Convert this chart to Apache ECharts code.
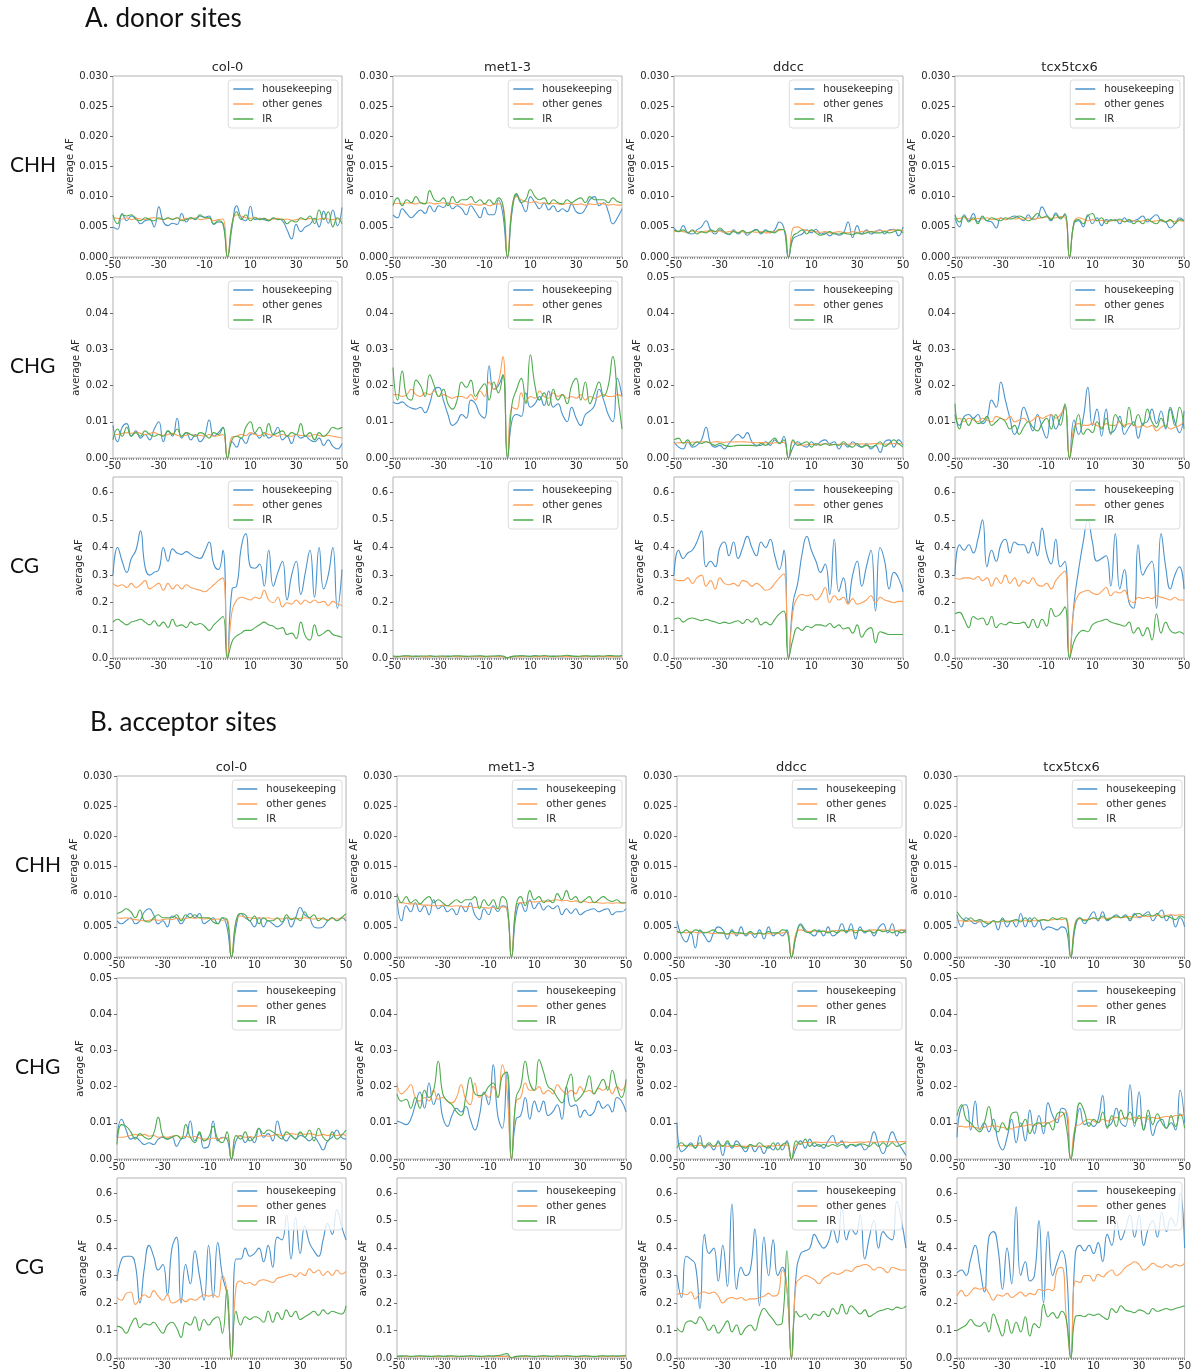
<!DOCTYPE html>
<html>
<head>
<meta charset="utf-8">
<script src="https://cdn.jsdelivr.net/npm/echarts@6/dist/echarts.min.js"></script>
<style>
  html, body { margin: 0; padding: 0; background: #ffffff; }
  #chart { width: 1194px; height: 1371px; }
</style>
</head>
<body>
<div id="chart"></div>
<script>
// Position relative to the splice site (nt)
const positions = [-50,-48,-46,-44,-42,-40,-38,-36,-34,-32,-30,-28,-26,-24,-22,-20,-18,-16,-14,-12,-10,-8,-6,-4,-2,
  0,2,4,6,8,10,12,14,16,18,20,22,24,26,28,30,32,34,36,38,40,42,44,46,48,50];

// Average allele frequency, stored in per-mille (x 0.001)
// ---- A. donor sites ----
const donor_CHH_col0_hk    = [5,4.6,7.2,6,6.8,6.5,5.5,6,6.2,5,8.3,5.8,5.2,5.6,5.4,7.2,5.8,6.5,6.2,6.8,6.6,6.8,5.4,5.8,5.6,0,5,8.5,6.5,6,8.4,6.2,6.4,6.2,6,6.4,6.3,6,4.5,3,5.4,4.2,5,5.4,6.4,5,7.6,5.6,7.8,5.2,8.2];
const donor_CHH_col0_other = [6.5,6.4,6.3,6.5,6.2,6.4,6.3,6.2,6.4,6.5,6.3,6.2,6.4,6.3,6.5,6.2,6.4,6.3,6.5,6.2,6.3,6.4,6,6.2,6.3,0,5.5,7,6.8,6.5,6.4,6.6,6.3,6.4,6.2,6.3,6.4,6.2,6.3,6.1,6.2,6.3,6.2,6.4,6.2,6.3,6.4,6.3,6.2,6.3,6.3];
const donor_CHH_col0_ir    = [7,5.5,7,6.8,7,6.2,6,6.5,6.2,6,6.5,6.2,6.5,6.2,6.5,6,6.2,6.5,6.3,7,6.5,6.5,5.5,6,5.5,0,5.5,7.5,6.2,7,6,6.5,6.2,6.4,6,6.5,6.2,6.3,5.5,6,5.8,6.5,6.2,6.8,5.5,7.8,6.2,7.5,5,6.5,5.5];
const donor_CHH_met_hk     = [7,6.5,8,7.2,6.5,7.2,7.8,7.2,8.5,7.5,8.5,8.2,9,8,8.5,8,7,8.5,7.5,6.5,8.2,7,7,9.5,7,0,7.5,10.3,9,7.5,10,9,8,9,7.8,8.5,7.5,8,7.5,8.8,7.5,7.2,8,9.5,10,8.5,9,7.5,5.5,6.5,8];
const donor_CHH_met_other  = [8.8,8.9,8.8,9,8.9,8.8,9,8.9,9,8.8,8.9,9,8.8,8.9,8.7,8.8,8.6,8.8,8.7,8.6,8.8,8.5,8.7,8.8,8.6,0,8.5,10,9.5,9.2,9,9.2,8.9,9,8.8,8.9,8.8,8.7,8.9,8.8,8.7,8.8,8.6,8.8,8.7,8.9,8.8,8.6,8.7,8.6,8.6];
const donor_CHH_met_ir     = [8.5,9.8,8.5,9.5,9,10,9,8.8,11,9.5,9.2,9.8,8.5,10,9,9.5,9.5,10,9,9.5,8.8,9.5,8.8,9.8,8.5,0,8,10.5,9,9.5,11.2,10,9.5,9.8,8.8,9.5,9,8.8,9.5,9,9.5,9.8,9,10,9.5,9.5,9.5,9,9.8,9.2,9];
const donor_CHH_ddcc_hk    = [4.8,4.2,5.2,4,3.8,4.5,5,6,4.5,3.8,4.5,4,3.7,4.5,3.8,4.3,3.6,4.2,4.6,3.8,4.5,4,4.5,5.8,4.8,0,3,3.5,3.8,4.5,4,4.6,3.8,4,3.5,4,3.6,4,5.8,3.2,5.2,3.8,4.5,3.8,4.2,4.5,3.8,4.5,4.6,3.5,5];
const donor_CHH_ddcc_other = [4.2,4.3,4.2,4.1,4.3,4.2,4.1,4.3,4.2,4.2,4.3,4.1,4.2,4.3,4.1,4.2,4,4.2,4.1,4.2,4,4.1,4.2,4.4,4.6,0,4.8,5,4.6,4.4,4.3,4.2,4.1,4.2,4,4.1,4.2,4.1,4,4.2,4.1,4.2,4.3,4.2,4.3,4.4,4.3,4.4,4.5,4.4,4.5];
const donor_CHH_ddcc_ir    = [4.5,4.2,4.5,4,4.5,3.8,4.2,4,4.5,4.2,4.8,4.2,3.8,4.2,4,4.4,4,4.2,4.5,4,4.3,4.2,4,4.6,4.5,0,3.5,4,4.5,3.8,4.5,4,3.6,3.8,4.2,3.8,3.8,4,3.8,3.7,4,3.8,4,4.2,4,4,4.2,4,4.2,4.5,4];
const donor_CHH_tcx_hk     = [6.5,5,7,6,7.2,5.8,6.5,6,5.8,4.8,6.5,6.2,6.5,6.8,6.5,6,7,6.2,6.5,8.3,7,6,7.3,6.5,7,0,5.5,6,5,7,5.5,6.5,5.2,6.2,6,6.2,5.5,6.5,5.8,6,6.3,6.8,5.8,6.5,7,6,5.8,4.8,5.5,6.5,6];
const donor_CHH_tcx_other  = [6.3,6.4,6.5,6.3,6.2,6.4,6.3,6.5,6.2,6.3,6.4,6.2,6.5,6.3,6.4,6.2,6.5,6.3,6.4,6.5,6.6,6.4,6.5,6.7,6.6,0,5.8,6.5,6.3,6,6.2,6,6.1,5.9,6,6.1,6,5.9,6.1,6,5.9,6,6.1,5.9,6,6,5.9,6,5.9,6,5.9];
const donor_CHH_tcx_ir     = [7,5.8,6.8,5.8,6.5,5.5,6.8,6,6.5,6.2,6,6.5,6.3,6.5,6.8,6.5,6,6.5,7.2,6.5,6.8,6.2,7,6.3,7.2,0,5.8,6.2,5.5,6.8,7.2,6,6.5,5.5,6.2,6,6.3,5.8,6.2,5.5,6,5.5,6.3,5.8,5.5,6.2,5.8,6.2,5.5,6.2,6];

const donor_CHG_col0_hk    = [9,4.5,8.5,9.5,6,7.5,5.5,6.5,5,8,10,4.5,7.5,6,11,5.5,7,5,6.5,4.5,6,10.5,6,7,8.5,0,4.5,3,5.5,4,6.5,6.8,5.5,7,5.5,6.5,8.5,5,6,4,6.5,5.5,6,5,4.5,5.5,3.5,5,3.2,2.5,4];
const donor_CHG_col0_other = [6.5,6.5,6.8,7,6.8,7.2,6.8,6.5,6.8,7,6.5,6.3,6.5,6.8,6.3,6,6.3,6.5,6.2,6.3,6,6.5,6,6.2,6.5,0,5.8,6,6.5,6.2,7,6.5,6.2,6.8,6.5,6.3,6,6.5,6.2,6,6.5,6.2,6.3,6,6.5,6.2,6,6.3,6,5.8,5.5];
const donor_CHG_col0_ir    = [5,8,6,8.5,6,7,6,7.5,6.5,6,6.5,6,7.5,6.5,8,6,7,6.5,6,7,6.5,5.5,7,6.5,8.5,0,5,6,5.5,8.5,10,7,8.5,6,9.5,6.5,7,7.5,6,7,6.5,9.5,6,7,5,7,6,7,8.5,8,8.5];
const donor_CHG_met_hk     = [15.5,15,15.5,14.5,13.8,13.5,14,12.5,15,19,19.5,16,12,9,10,12,11,16,15,12,11,25.5,19,20,23,0,10.5,12,11.5,18,14,15,17,14.5,18.5,14,15,12,10,14,11,9,12,13,14.5,19,16,12,10,22,17];
const donor_CHG_met_other  = [17.5,17.5,17,17.5,19,17.5,17,18,17.5,18.5,17,17.5,17,16.5,17,17,16.5,17.5,16,18.5,17,21,19,21,28,0,14,13.5,18,15.5,17,16.5,18.5,17,16.5,18,17,17.5,16.5,17,16.5,17.5,16,17,16.5,17,17.5,17,17,17.5,17];
const donor_CHG_met_ir     = [25,16,24,17,16,21.5,20,17,23,20,17,19,15,13.5,16,21,19.5,21.5,17,19,20.5,16,21,18,23,0,15,19,22,15,28.5,20,16,18,14.5,19,16,17.5,15,20,22,16,21,15,18,21,17,20,28,18,8];
const donor_CHG_ddcc_hk    = [4.5,3,2.5,4.5,3,3.5,5,8.5,4,3,3.5,2.5,4,5.5,6.5,5.5,7,4.5,3.5,3.5,4.5,3.5,5,4,6,0,3,4.5,3.5,3,4.5,3.5,4.5,5,4,4.5,2.5,4,3,4.5,3.5,3,4,2.5,3.5,1.5,4.5,5,3,5,3.5];
const donor_CHG_ddcc_other = [4,4.2,4.3,4.2,4.4,4.3,4.5,4.4,4.3,4.5,4.4,4.3,4.5,4.4,4.5,4.5,4.4,4.3,4.2,4.3,4.2,4.1,4.2,4.3,4.3,0,4.5,4,3.5,3.7,3.8,3.7,3.8,3.9,3.8,3.7,3.8,3.9,3.8,3.9,3.8,3.9,3.8,3.9,4,3.9,3.8,3.9,4,3.9,4];
const donor_CHG_ddcc_ir    = [5,5.5,4,5,3.5,4.5,4,4.5,4,3.5,4,3.5,3.2,3.3,3.5,3.5,3.5,3.5,3.3,4,3.5,4.5,5.5,4,5,0,5,3.5,4,4.5,3,4,3.5,4,3.5,3.8,3.5,4.5,3.5,3,4,3,3.5,3,3.5,4.5,3.2,4,5,4,3];
const donor_CHG_tcx_hk     = [12,9,11.5,12,11,12,9.5,11,16,14,21,16,11,6.5,9,14,11,7.5,12,8.5,5.5,12,8,11,14.5,0,10.5,6.5,11,19.5,9,13.5,6,13.5,7,8,11.5,6.5,8.5,10,5.5,9.5,10,13.5,9.5,13,8,14,10,7,13];
const donor_CHG_tcx_other  = [10.5,11,10,11,10.5,10,11,10.5,10,11.5,11,10.5,11.5,10,10.5,11,10,10.5,11.5,11,11.5,12,11,12,14,0,8.5,9.5,9,9,9.5,9,8.5,9.5,9,9,10,9,9.5,9,8.5,9,8.5,9,7.5,8.5,9,8,8.5,9,10];
const donor_CHG_tcx_ir     = [15,8,11,9,11,9.5,10,11.5,9,10,11,10,8,9,6.5,8.5,10,8.5,7.5,9.5,11,8,12,9,15,0,7,12,6.5,8,7,10,8,11,6.5,12,10,8.5,14,9,12,9,13.5,10,8.5,11,8.5,13.5,9,14,8];

const donor_CG_col0_hk     = [300,400,350,310,360,390,460,330,300,310,320,400,350,395,380,375,385,375,365,360,385,420,340,320,390,0,250,260,400,450,330,325,340,260,390,260,310,350,210,300,350,230,310,390,220,400,250,300,400,180,320];
const donor_CG_col0_other  = [270,260,265,255,270,255,265,280,250,260,270,245,270,250,265,250,265,255,250,245,240,250,265,280,290,0,170,210,220,215,210,220,215,245,210,200,220,185,200,195,210,195,210,200,210,200,205,190,205,195,190];
const donor_CG_col0_ir     = [130,140,130,120,130,135,140,130,120,135,115,130,110,140,115,120,110,130,120,125,115,100,120,135,150,0,60,80,90,100,100,110,120,130,120,115,105,110,85,90,70,130,80,65,120,80,90,100,85,80,75];
const donor_CG_met_hk      = [6,5,6,6,5,7,6,5,6,6,5,6,7,6,5,6,6,5,6,7,6,5,6,7,5,1,5,6,7,6,6,8,6,5,6,7,6,5,6,7,6,5,6,6,7,6,5,6,7,6,8];
const donor_CG_met_other   = [5,5,5.5,5,5,5.5,5,5,5,5.5,5,5,5,5.5,5,5,5,5,5.5,5,5,5,5.5,5,5,1,4.5,5,5,5.5,5,5,5,5.5,5,5,5,5.5,5,5,5,5,5.5,5,5,5,5.5,5,5,5,5];
const donor_CG_met_ir      = [7,6,7,8,7,6,7,7,8,6,7,7,6,7,8,7,6,7,7,8,6,7,7,8,7,1,6,7,8,7,6,8,7,9,7,6,7,8,10,7,6,7,8,7,6,8,7,9,8,7,9];
const donor_CG_ddcc_hk     = [300,390,360,380,390,420,460,330,350,330,400,420,370,420,360,400,440,400,370,420,400,430,370,320,390,0,200,270,380,440,390,350,310,340,230,430,240,290,200,300,350,260,330,390,170,400,350,250,310,290,240];
const donor_CG_ddcc_other  = [285,280,280,290,270,290,300,260,280,250,290,270,265,270,260,280,275,260,270,260,245,250,270,290,305,0,170,220,230,225,230,210,225,255,200,225,210,220,195,215,195,200,210,225,200,220,210,205,200,205,205];
const donor_CG_ddcc_ir     = [140,145,130,140,145,140,135,140,135,130,125,130,125,130,135,125,140,130,145,120,130,120,140,160,170,0,70,110,100,115,110,120,120,115,125,110,120,105,110,90,120,75,100,110,55,95,90,85,85,85,85];
const donor_CG_tcx_hk      = [300,410,390,410,380,430,500,330,390,350,410,430,380,420,410,410,380,420,370,470,380,340,430,330,350,0,200,320,420,500,420,350,360,370,260,450,250,320,200,180,410,300,330,350,180,450,330,250,300,330,250];
const donor_CG_tcx_other   = [290,285,290,290,285,295,280,290,260,290,270,300,270,290,260,280,270,290,265,260,270,250,280,300,315,0,180,230,240,245,235,230,240,255,225,240,235,245,210,200,220,215,220,215,225,220,215,210,220,210,210];
const donor_CG_tcx_ir      = [160,165,140,110,150,140,145,120,150,110,125,120,130,125,125,130,110,140,110,140,115,180,150,160,185,0,60,90,100,95,120,130,135,140,130,125,120,115,130,90,110,80,110,65,160,90,130,100,90,95,85];

// ---- B. acceptor sites ----
const acceptor_CHH_col0_hk    = [6,5.5,6,6.5,5.5,6,7.5,8,7,5.5,6,5,6.8,6.5,5.5,6.5,7.2,6.5,7.2,5.5,6,6.5,5.5,6.5,5,0,5,7.2,6.5,6,5,6.5,5,6,5.5,5,5.5,6.5,5,6.5,8.2,7,6.5,5,4.8,5,6,6.5,6,6.5,6];
const acceptor_CHH_col0_other = [6.5,6.4,6.5,6.3,6.2,6.1,6,6.1,6.2,6.1,6.2,6.3,6.2,6.4,6.3,6.4,6.5,6.4,6.5,6.3,6.4,6.2,6.3,6.1,6.3,0,6,6.8,6.6,6.5,6.4,6.5,6.4,6.5,6.3,6.4,6.3,6.5,6.4,6.3,6.4,6.5,6.4,6.3,6.4,6.3,6.2,6.4,6.3,6.4,6.5];
const acceptor_CHH_col0_ir    = [7.2,7.5,8,7.5,6.5,7.8,6,5.8,6.5,7,6.5,6.5,6.5,7,6,7,6.5,7,6.5,6.5,6.5,5.8,5.5,6.5,6.2,0,6,7.2,7,6,6.8,5.5,6.5,6,6,6.5,5.8,7,6.2,6.5,6,7.5,6.5,7,6,6.5,6,6.5,6,6.5,7.2];
const acceptor_CHH_met_hk     = [9.5,6,8.5,7.5,9,7.5,8.5,7,9.5,8,8.5,7.5,8,7,8.5,7.5,9,7,6.2,8,7,8.5,7.5,8.5,8,0,7,9,7.5,9.5,8,9,7.8,8.5,8,8.5,7,8,7.2,8,7,7.5,7.8,8,7.5,7.8,8,7,7.5,7.5,8];
const acceptor_CHH_met_other  = [9,9,8.9,8.8,8.8,8.7,8.6,8.6,8.5,8.5,8.6,8.5,8.4,8.5,8.4,8.3,8.4,8.2,8.3,8.2,8.1,8.2,8,8.3,8,0,8.5,9,9,9.2,9.1,9.2,9.3,9.2,9.4,9.5,9.3,9.4,9.2,9.3,9.1,9.2,9,9.1,9,8.9,9,8.9,9,8.9,9];
const acceptor_CHH_met_ir     = [10.5,9,10,9,9.5,8.8,9.5,10,9,9.5,9,8.5,9,9.5,9,9.5,9.5,10,8,9.5,8.5,9.5,8,10,9,0,8.5,10,8.5,11,9.5,10,9,9.5,9,10.5,9.5,11,9.5,10,9,9.5,10,9,9.5,10,9.5,9.2,9.5,9,9];
const acceptor_CHH_ddcc_hk    = [6,3.5,2.5,4,1.5,4.5,3.5,2.5,4,5,4.5,3,4.5,3.5,5,3.5,4,3.2,4.5,3,5,3.5,4,3.5,4.5,0,3.5,5.5,4.5,4,3.5,4.5,3.5,5,3.5,4,5.5,4,5.5,3,5,4,4.5,3.5,4.8,5.5,4,5.5,3.5,4.5,4];
const acceptor_CHH_ddcc_other = [4,4.1,4,4.2,4.1,4,4.1,4,3.9,4,3.9,3.8,3.9,3.8,3.9,3.8,3.9,3.8,3.9,3.8,3.9,3.8,3.9,4,4.1,0,4,4.5,4.3,4.2,4.3,4.2,4.3,4.2,4.3,4.4,4.3,4.4,4.3,4.4,4.4,4.3,4.4,4.5,4.4,4.5,4.4,4.5,4.4,4.5,4.5];
const acceptor_CHH_ddcc_ir    = [4.3,4,4.5,4,4.5,4.3,4,4.2,4.5,4,4,3.8,4.2,4,4,3.8,4.2,3.8,4,3.8,4.2,4,4,4.5,4.2,0,3.5,5.3,4.2,4,4.5,4.2,4.3,4,4.3,4,4.5,4.2,4.6,4,4.5,4.2,4.3,4,4.5,4.2,4.4,4,4.3,4,4.5];
const acceptor_CHH_tcx_hk     = [7,5,6.5,6,5.5,6,5,5.5,6,4.5,6.5,5,6,5,7.2,5,6.5,5,6,4.5,5,4.8,4.5,5,4.5,0,5,6.5,5.5,6.5,7.5,6,7.5,6,6.5,7,6.5,7,6,7.2,6.5,7,7.5,6,7,7.8,6,7,5,6.5,5];
const acceptor_CHH_tcx_other  = [6,6,5.9,6,5.9,5.8,5.9,5.8,5.9,5.8,5.9,6,5.9,6,6.1,6,6.1,6,6.1,6.2,6.1,6.2,6.3,6.2,6.4,0,5.8,6.3,6.2,6.3,6.4,6.3,6.5,6.4,6.5,6.6,6.5,6.6,6.7,6.6,6.7,6.8,6.7,6.8,6.9,6.8,6.9,7,6.9,7,7];
const acceptor_CHH_tcx_ir     = [7.5,6.5,6,6.5,6,6.2,5.8,5.5,6,5.8,6.2,5.8,6,6.2,5.8,6.5,5.8,6.5,6,6.2,6,6.5,6.2,6.5,6.3,0,5.5,6.5,6,6.2,6.5,6.3,6.8,6.2,6.5,6.8,6.5,6.8,6.3,7,7.2,6.8,7,6.8,7.2,6.5,6.8,6.5,6.2,6.8,6.5];

const acceptor_CHG_col0_hk    = [6,11,8,5.5,6,5,4,4.5,4,5.5,6,5.5,6,3.5,5.5,6,10.5,5,7,3,3.5,10.5,5,6,5.5,0,5,6.5,4.5,6,4.5,8.5,6,7,5,10.5,6.5,5,6.5,5.5,6.5,6,5,6,4.5,2.5,5,6,8,6,5.5];
const acceptor_CHG_col0_other = [6,6,6.2,6.5,6.8,6.5,6.8,6.3,6.5,6,6.2,6,6.3,6.5,6,6.3,6,6.2,5.8,5.5,5.5,5.8,5.5,5.8,6,0,6.5,6.3,6,6.2,6,6.3,6.5,6.3,6.5,6.8,6.5,6.8,7,6.8,7,6.8,7,6.8,6.5,6.8,6.5,6.8,6.5,6.8,6.5];
const acceptor_CHG_col0_ir    = [4,9.5,9,7.5,5.5,7,6,5.5,7,11.5,6.5,5.5,6,6.5,5.5,9.5,6,4.5,7.5,5,6,9,5.5,4.5,7.5,0,6.5,5.5,7.5,5,6,8.5,7,8,7.5,6.5,5.5,7.5,6.5,5.5,7.5,6,8,5,8.5,6,5,7.5,5.5,6.5,8];
const acceptor_CHG_met_hk     = [10.5,10,9.5,11,15,18.5,14,21,15,18,11.5,9,12,14,13,14.5,11,8,12,18.5,15,26,12,8.5,24,0,11,12,17,11,16,13,16,12,13,15,11,20,14.5,15,11.5,13.5,12,13,16,14,15,13,17,16,13];
const acceptor_CHG_met_other  = [21,18,19,20.5,17,16,17,16,19,16.5,17,16,15.5,17,20.5,16.5,15,21,17,18,17,20,17,26,19,0,16,17,21,19,19,20,18,19,18,20.5,19,18,19,18,20,18.5,19,18,19.5,19,20,18,20,19,21];
const acceptor_CHG_met_ir     = [18,16,16.5,14,17,14,19,17,19,27,18,16,15,13,12,17,22.5,18,17.5,18,20,21,17,23,24,0,17,20,27,21,19,27.5,24,20,19,17,15.5,20,23.5,16,17,19,23,18,20,22,19,24.5,20,17,22];
const acceptor_CHG_ddcc_hk    = [10,2,3,4.5,3,6.5,3,4,2.5,5,1,4.5,3,5,3.5,2,4,2,3.5,1.5,3.5,2.5,4.5,2.5,5,0,3,5,3,5.5,3.5,4,3,5,6.5,4,5,3,4,3.5,4,2.5,4,7.5,4,1.5,4.5,7.5,5,3,1];
const acceptor_CHG_ddcc_other = [3.8,3.7,3.8,3.6,3.7,3.8,3.6,3.7,3.5,3.6,3.7,3.5,3.6,3.5,3.6,3.5,3.6,3.5,3.6,3.5,3.7,3.6,3.8,3.7,3.9,0,4,4.3,4.6,4.5,4.7,4.6,4.5,4.7,4.6,4.5,4.6,4.7,4.5,4.6,4.7,4.6,4.8,4.6,4.7,4.8,4.7,4.8,4.7,4.8,4.8];
const acceptor_CHG_ddcc_ir    = [3,4.5,3.5,4,3,4.5,3.5,4.5,3.5,4.5,3.5,5,3.5,4,3.5,3,4,3.5,4.5,3.5,3,4.5,2.5,4,4.5,0,5,4,5.5,3.5,4.5,3.5,4,3.5,4,3.5,4,3.5,4,3.8,4.2,4,3.5,4.5,3.5,4.5,3.5,4.5,3.5,4,4.5];
const acceptor_CHG_tcx_hk     = [6,14.5,15,8,16,8,10,7.5,11,5,2.5,6,11,4.5,10,5,13.5,7,12,7,15.5,12,10,14,13,0,8,14,9.5,10,9,11,17.5,9,10,14,10,9,20.5,9,18.5,8,12,6.5,10,11,8.5,10,8,19,10];
const acceptor_CHG_tcx_other  = [9,9,8.8,9,8.7,8.5,8.8,9,9.2,9,8.7,8.5,8.3,8.8,9,9.2,9.5,9.3,9.8,10,10,10.5,11,12,13,0,9,9.5,10.5,11,10.5,10,11,10.5,11,11.5,11,11.5,11,11.5,11.2,11.5,11,11.5,11.2,11.5,11.8,11.5,12,12,12.5];
const acceptor_CHG_tcx_ir     = [12,15,11,10,8.5,7.5,10,14.5,9,7.5,10,8,12.5,13,9,11,7,9.5,10,9,10,8,12.5,13,9,0,9,15.5,13,9,11,10,13,8.5,12,9,13.5,11,13,10,12,8,13.5,9.5,12.5,10,8.5,12,9,12.5,8.5];

const acceptor_CG_col0_hk     = [280,360,370,370,340,200,330,410,370,320,340,230,400,440,200,340,270,390,300,210,410,220,420,300,230,0,360,360,400,370,380,400,350,410,330,440,430,520,360,510,380,480,420,390,370,430,490,450,540,480,430];
const acceptor_CG_col0_other  = [220,210,235,240,195,215,230,220,245,225,210,230,200,205,215,205,215,210,220,230,225,230,220,300,240,0,260,280,270,275,265,280,285,280,275,290,295,300,305,295,310,300,325,310,320,300,315,300,320,305,315];
const acceptor_CG_col0_ir     = [115,110,90,120,145,110,125,120,130,110,90,120,130,110,75,130,120,150,100,140,120,140,150,90,250,0,170,120,150,140,150,145,130,170,130,165,140,175,150,170,140,150,160,170,155,175,160,170,165,160,190];
const acceptor_CG_met_hk      = [6,7,6,5,6,7,6,6,5,6,6,7,6,5,6,6,7,6,6,5,7,6,8,6,7,1,5,6,7,6,5,6,7,6,6,5,6,7,6,5,6,7,6,5,6,7,6,6,7,6,7];
const acceptor_CG_met_other   = [5,5.5,5,5.5,5,5.5,5,5.5,5,5,5.5,5,5.5,5,5,5.5,5,5.5,5,5,5.5,5,5.5,6,6,1,5,5.5,5,5.5,5,5.5,5,5.5,5,5,5.5,5,5.5,5,5,5.5,5,5.5,5,5,5.5,5,5.5,5,5.5];
const acceptor_CG_met_ir      = [6,7,8,6,7,8,7,6,7,8,6,7,8,7,6,7,8,7,6,7,8,7,9,12,16,1,6,7,8,7,6,7,8,7,6,8,7,8,7,6,7,8,7,6,7,8,7,8,7,8,9];
const acceptor_CG_ddcc_hk     = [300,220,370,360,340,180,450,380,400,280,410,260,560,250,330,300,320,470,190,440,300,430,300,330,250,0,300,380,390,400,450,420,400,420,470,420,550,430,470,450,520,360,440,500,400,460,440,430,570,500,400];
const acceptor_CG_ddcc_other  = [230,235,230,240,215,235,240,235,240,225,200,215,220,215,220,210,215,215,220,225,235,225,230,320,250,0,270,290,300,295,285,270,290,300,310,305,310,320,315,330,335,340,335,320,330,325,310,330,325,320,320];
const acceptor_CG_ddcc_ir     = [110,95,130,135,125,150,130,100,120,90,110,135,95,120,85,110,120,100,150,180,160,140,120,130,390,0,170,150,160,140,160,155,170,150,180,160,195,160,190,175,160,175,150,160,170,175,180,175,185,180,190];
const acceptor_CG_tcx_hk      = [310,320,300,360,410,330,240,440,460,400,250,400,270,550,300,350,280,300,500,200,460,300,350,390,330,0,380,410,390,410,380,420,350,450,410,500,430,470,520,440,520,410,470,500,440,530,460,510,480,600,400];
const acceptor_CG_tcx_other   = [225,245,225,240,255,250,255,235,210,230,225,235,220,230,240,225,235,230,250,245,250,245,320,330,150,0,280,275,300,300,280,305,295,310,320,300,310,330,340,350,340,320,330,345,335,330,340,330,340,335,345];
const acceptor_CG_tcx_ir      = [100,110,120,140,120,115,130,95,160,120,80,140,90,130,95,150,80,125,110,195,150,165,145,170,140,0,150,155,150,160,155,160,150,140,180,165,190,175,170,165,175,170,160,180,170,175,180,175,180,185,190];

const PER_MILLE = 0.001;

const sectionTitles = ['A. donor sites', 'B. acceptor sites'];
const contexts = ['CHH', 'CHG', 'CG'];
const genotypes = ['col-0', 'met1-3', 'ddcc', 'tcx5tcx6'];
const lineNames = ['housekeeping', 'other genes', 'IR'];
const lineColors = ['#4a93cd', '#fca05a', '#4dab4d'];

const xTickLabels = [-50, -30, -10, 10, 30, 50];
const yTickValues = {
  CHH: [0, 0.005, 0.01, 0.015, 0.02, 0.025, 0.03],
  CHG: [0, 0.01, 0.02, 0.03, 0.04, 0.05],
  CG:  [0, 0.1, 0.2, 0.3, 0.4, 0.5, 0.6]
};
const yMax = { CHH: 0.03, CHG: 0.05, CG: 0.655 };
const yDigits = { CHH: 3, CHG: 2, CG: 1 };

// [section][context][genotype] -> [housekeeping, other genes, IR]
const panelData = [
  {
    CHH: [[donor_CHH_col0_hk, donor_CHH_col0_other, donor_CHH_col0_ir],
          [donor_CHH_met_hk, donor_CHH_met_other, donor_CHH_met_ir],
          [donor_CHH_ddcc_hk, donor_CHH_ddcc_other, donor_CHH_ddcc_ir],
          [donor_CHH_tcx_hk, donor_CHH_tcx_other, donor_CHH_tcx_ir]],
    CHG: [[donor_CHG_col0_hk, donor_CHG_col0_other, donor_CHG_col0_ir],
          [donor_CHG_met_hk, donor_CHG_met_other, donor_CHG_met_ir],
          [donor_CHG_ddcc_hk, donor_CHG_ddcc_other, donor_CHG_ddcc_ir],
          [donor_CHG_tcx_hk, donor_CHG_tcx_other, donor_CHG_tcx_ir]],
    CG:  [[donor_CG_col0_hk, donor_CG_col0_other, donor_CG_col0_ir],
          [donor_CG_met_hk, donor_CG_met_other, donor_CG_met_ir],
          [donor_CG_ddcc_hk, donor_CG_ddcc_other, donor_CG_ddcc_ir],
          [donor_CG_tcx_hk, donor_CG_tcx_other, donor_CG_tcx_ir]]
  },
  {
    CHH: [[acceptor_CHH_col0_hk, acceptor_CHH_col0_other, acceptor_CHH_col0_ir],
          [acceptor_CHH_met_hk, acceptor_CHH_met_other, acceptor_CHH_met_ir],
          [acceptor_CHH_ddcc_hk, acceptor_CHH_ddcc_other, acceptor_CHH_ddcc_ir],
          [acceptor_CHH_tcx_hk, acceptor_CHH_tcx_other, acceptor_CHH_tcx_ir]],
    CHG: [[acceptor_CHG_col0_hk, acceptor_CHG_col0_other, acceptor_CHG_col0_ir],
          [acceptor_CHG_met_hk, acceptor_CHG_met_other, acceptor_CHG_met_ir],
          [acceptor_CHG_ddcc_hk, acceptor_CHG_ddcc_other, acceptor_CHG_ddcc_ir],
          [acceptor_CHG_tcx_hk, acceptor_CHG_tcx_other, acceptor_CHG_tcx_ir]],
    CG:  [[acceptor_CG_col0_hk, acceptor_CG_col0_other, acceptor_CG_col0_ir],
          [acceptor_CG_met_hk, acceptor_CG_met_other, acceptor_CG_met_ir],
          [acceptor_CG_ddcc_hk, acceptor_CG_ddcc_other, acceptor_CG_ddcc_ir],
          [acceptor_CG_tcx_hk, acceptor_CG_tcx_other, acceptor_CG_tcx_ir]]
  }
];

// Page layout of the two figure blocks
const CHART_W = 1194;
const PLOT_W = 229;
const PLOT_H = 181;
const blocks = [
  { colLeft: [113, 393, 674, 955], rowTop: [76, 277, 477], labelX: 10, titleX: 85, titleY: 19 },
  { colLeft: [117, 397, 677, 957], rowTop: [776, 978, 1178], labelX: 15, titleX: 90, titleY: 723 }
];

const axisFont = 'DejaVu Sans';
const inkColor = '#262626';
const headingFont = 'Lato, "Open Sans", sans-serif';

const option = {
  animation: false,
  backgroundColor: '#ffffff',
  grid: [], xAxis: [], yAxis: [], series: [], legend: [], graphic: []
};

blocks.forEach((blk, s) => {
  option.graphic.push({
    type: 'text', x: blk.titleX, y: blk.titleY,
    style: { text: sectionTitles[s], font: '26px ' + headingFont, fill: '#111',
             textAlign: 'left', textVerticalAlign: 'middle' }
  });
  contexts.forEach((ctx, r) => {
    const top = blk.rowTop[r];
    option.graphic.push({
      type: 'text', x: blk.labelX, y: top + PLOT_H / 2 - 1,
      style: { text: ctx, font: '21px ' + headingFont, fill: '#111',
               textAlign: 'left', textVerticalAlign: 'middle' }
    });
    genotypes.forEach((gt, c) => {
      const left = blk.colLeft[c];
      const idx = option.grid.length;
      option.grid.push({
        left: left, top: top, width: PLOT_W, height: PLOT_H,
        show: true, borderColor: '#b3b3b3', borderWidth: 1, backgroundColor: 'transparent'
      });
      option.xAxis.push({
        type: 'value', gridIndex: idx, min: -50, max: 50, interval: 1,
        axisLine: { show: false, onZero: false },
        axisTick: { show: true, length: 2, lineStyle: { color: '#8a8a8a', width: 1 } },
        axisLabel: { customValues: xTickLabels, margin: 3, fontSize: 10, color: inkColor,
                     fontFamily: axisFont, formatter: v => String(v) },
        splitLine: { show: false }
      });
      option.yAxis.push({
        type: 'value', gridIndex: idx, min: 0, max: yMax[ctx],
        name: 'average AF', nameLocation: 'middle', nameRotate: 90, nameGap: 29,
        nameTextStyle: { fontSize: 10, color: inkColor, fontFamily: axisFont },
        axisLine: { show: false, onZero: false },
        axisTick: { show: true, customValues: yTickValues[ctx], length: 3,
                    lineStyle: { color: '#6a6a6a', width: 1 } },
        axisLabel: { customValues: yTickValues[ctx], margin: 5, fontSize: 10, color: inkColor,
                     fontFamily: axisFont, formatter: v => v.toFixed(yDigits[ctx]) },
        splitLine: { show: false }
      });
      const triple = panelData[s][ctx][c];
      triple.forEach((vals, k) => {
        option.series.push({
          type: 'line', name: lineNames[k], xAxisIndex: idx, yAxisIndex: idx,
          data: positions.map((x, j) => [x, vals[j] * PER_MILLE]),
          showSymbol: false, symbol: 'none', smooth: 0.5, silent: true,
          color: lineColors[k],
          lineStyle: { width: 1.1, color: lineColors[k] },
          itemStyle: { color: lineColors[k] },
          z: 2 + k
        });
      });
      option.legend.push({
        data: lineNames, orient: 'vertical', selectedMode: false,
        right: CHART_W - (left + PLOT_W) + 4, top: top + 4,
        icon: 'rect', itemWidth: 20, itemHeight: 1.5, itemGap: 3,
        padding: [3, 6, 3, 5],
        backgroundColor: 'rgba(255,255,255,0.8)', borderColor: '#dcdcdc', borderWidth: 1,
        borderRadius: 3, z: 20,
        textStyle: { fontSize: 10, lineHeight: 12, color: inkColor, fontFamily: axisFont,
                     padding: [0, 0, 0, 4] }
      });
      if (r === 0) {
        option.graphic.push({
          type: 'text', x: left + PLOT_W / 2, y: top - 8,
          style: { text: gt, font: '13px ' + axisFont, fill: inkColor,
                   textAlign: 'center', textVerticalAlign: 'middle' }
        });
      }
    });
  });
});

const chart = echarts.init(document.getElementById('chart'), null, { renderer: 'canvas' });
chart.setOption(option);
</script>
</body>
</html>
